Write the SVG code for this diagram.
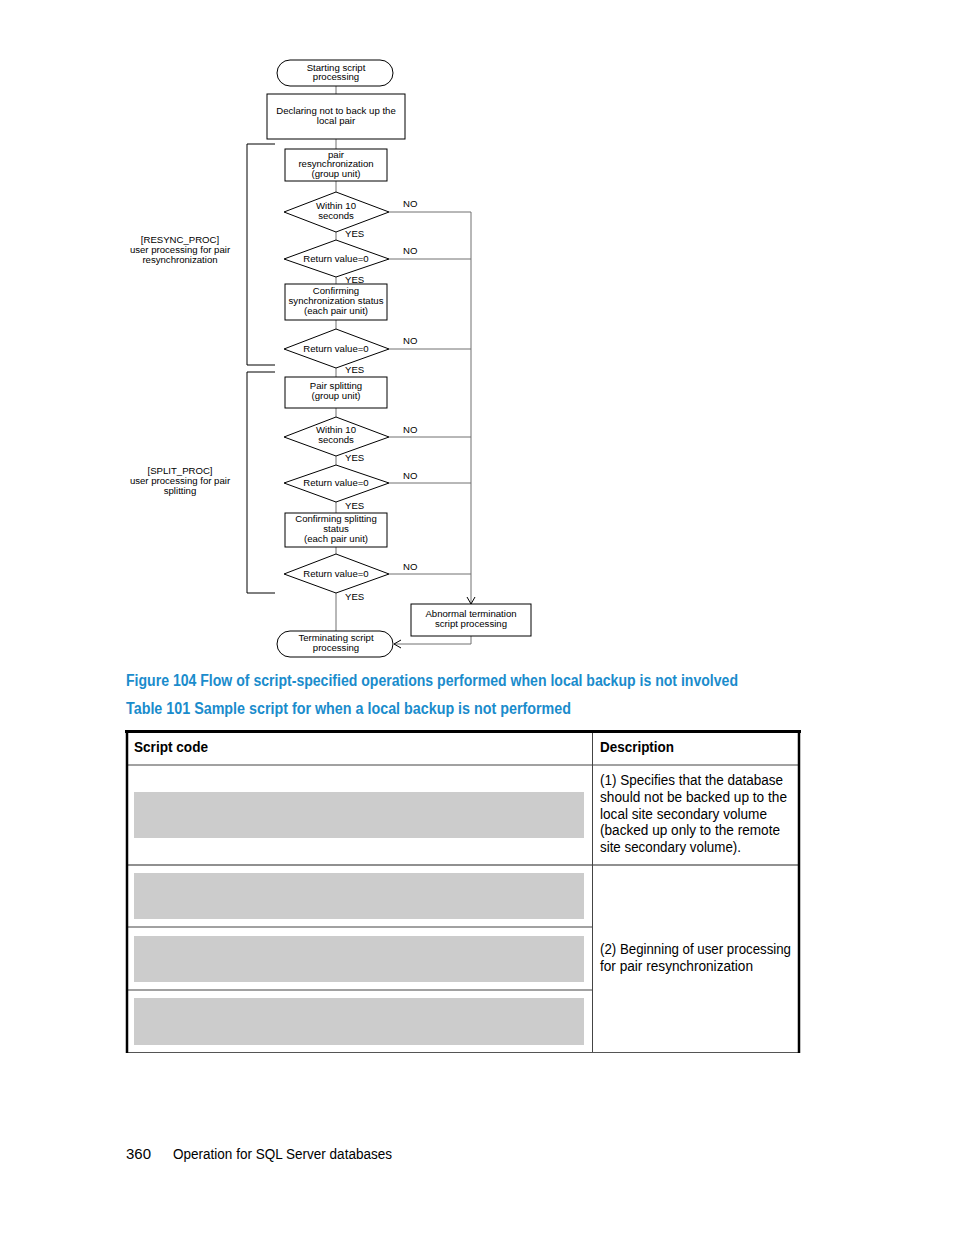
<svg xmlns="http://www.w3.org/2000/svg" width="954" height="1235" viewBox="0 0 954 1235">
<defs>
<style>
.n{fill:#fff;stroke:#000;stroke-width:1}
.t{font-family:"Liberation Sans",Arial,sans-serif;font-size:9.6px;fill:#000;text-anchor:middle}
.l{font-family:"Liberation Sans",Arial,sans-serif;font-size:9.6px;fill:#000}
.c{fill:none;stroke:#707070;stroke-width:1}
.b{fill:none;stroke:#000;stroke-width:1}
.cap{font-family:"Liberation Sans",Arial,sans-serif;font-size:16px;font-weight:bold;fill:#1a8ccc}
.h{font-family:"Liberation Sans",Arial,sans-serif;font-size:15px;font-weight:bold;fill:#000}
.d{font-family:"Liberation Sans",Arial,sans-serif;font-size:14px;fill:#000}
.g{fill:#cccccc}
</style>
<marker id="ar" markerWidth="10" markerHeight="10" refX="8" refY="5" orient="auto" markerUnits="userSpaceOnUse">
<path d="M1,1 L8,5 L1,9" fill="none" stroke="#000" stroke-width="1"/>
</marker>
</defs>
<rect width="954" height="1235" fill="#fff"/>

<g id="connectors">
<line class="c" x1="336" y1="86" x2="336" y2="94"/>
<line class="c" x1="336" y1="139" x2="336" y2="149"/>
<line class="c" x1="336" y1="181" x2="336" y2="192"/>
<line class="c" x1="336" y1="232" x2="336" y2="240"/>
<line class="c" x1="336" y1="277" x2="336" y2="284"/>
<line class="c" x1="336" y1="320" x2="336" y2="329"/>
<line class="c" x1="336" y1="368" x2="336" y2="377"/>
<line class="c" x1="336" y1="408" x2="336" y2="417"/>
<line class="c" x1="336" y1="456" x2="336" y2="465"/>
<line class="c" x1="336" y1="502" x2="336" y2="513"/>
<line class="c" x1="336" y1="547" x2="336" y2="554"/>
<line class="c" x1="336" y1="593" x2="336" y2="631"/>
<line class="c" x1="389" y1="212" x2="471" y2="212"/>
<line class="c" x1="389" y1="259" x2="471" y2="259"/>
<line class="c" x1="389" y1="349" x2="471" y2="349"/>
<line class="c" x1="389" y1="437" x2="471" y2="437"/>
<line class="c" x1="389" y1="483" x2="471" y2="483"/>
<line class="c" x1="389" y1="574" x2="471" y2="574"/>
<line class="c" x1="471" y1="212" x2="471" y2="604" marker-end="url(#ar)"/>
<polyline class="c" points="471,636 471,644 394,644" marker-end="url(#ar)"/>
<text class="l" x="403" y="207">NO</text>
<text class="l" x="403" y="254">NO</text>
<text class="l" x="403" y="344">NO</text>
<text class="l" x="403" y="433">NO</text>
<text class="l" x="403" y="479">NO</text>
<text class="l" x="403" y="570">NO</text>
<text class="l" x="345" y="237">YES</text>
<text class="l" x="345" y="283">YES</text>
<text class="l" x="345" y="373">YES</text>
<text class="l" x="345" y="461">YES</text>
<text class="l" x="345" y="509">YES</text>
<text class="l" x="345" y="600">YES</text>
</g>

<g id="brackets">
<polyline class="b" points="275,144 247,144 247,365 275,365"/>
<polyline class="b" points="275,372 247,372 247,593 275,593"/>
<text class="t" x="180" y="243">[RESYNC_PROC]</text>
<text class="t" x="180" y="253">user processing for pair</text>
<text class="t" x="180" y="263">resynchronization</text>
<text class="t" x="180" y="474">[SPLIT_PROC]</text>
<text class="t" x="180" y="484">user processing for pair</text>
<text class="t" x="180" y="494">splitting</text>
</g>

<g id="start">
<rect class="n" x="277" y="60" width="116" height="26" rx="13"/>
<text class="t" x="336" y="71">Starting script</text>
<text class="t" x="336" y="80">processing</text>
</g>
<g id="declare">
<rect class="n" x="267" y="94" width="138" height="45"/>
<text class="t" x="336" y="114">Declaring not to back up the</text>
<text class="t" x="336" y="124">local pair</text>
</g>
<g id="resync">
<rect class="n" x="285" y="149" width="102" height="32"/>
<text class="t" x="336" y="158">pair</text>
<text class="t" x="336" y="167">resynchronization</text>
<text class="t" x="336" y="177">(group unit)</text>
</g>
<g id="d1">
<polygon class="n" points="284,212 336,192 389,212 336,232"/>
<text class="t" x="336" y="209">Within 10</text>
<text class="t" x="336" y="219">seconds</text>
</g>
<g id="d2">
<polygon class="n" points="284,259 336,240 389,259 336,277"/>
<text class="t" x="336" y="262">Return value=0</text>
</g>
<g id="confsync">
<rect class="n" x="285" y="284" width="102" height="36"/>
<text class="t" x="336" y="294">Confirming</text>
<text class="t" x="336" y="304">synchronization status</text>
<text class="t" x="336" y="314">(each pair unit)</text>
</g>
<g id="d3">
<polygon class="n" points="284,349 336,329 389,349 336,368"/>
<text class="t" x="336" y="352">Return value=0</text>
</g>
<g id="split">
<rect class="n" x="285" y="377" width="102" height="31"/>
<text class="t" x="336" y="389">Pair splitting</text>
<text class="t" x="336" y="399">(group unit)</text>
</g>
<g id="d4">
<polygon class="n" points="284,437 336,417 389,437 336,456"/>
<text class="t" x="336" y="433">Within 10</text>
<text class="t" x="336" y="443">seconds</text>
</g>
<g id="d5">
<polygon class="n" points="284,483 336,465 389,483 336,502"/>
<text class="t" x="336" y="486">Return value=0</text>
</g>
<g id="confsplit">
<rect class="n" x="285" y="513" width="102" height="34"/>
<text class="t" x="336" y="522">Confirming splitting</text>
<text class="t" x="336" y="532">status</text>
<text class="t" x="336" y="542">(each pair unit)</text>
</g>
<g id="d6">
<polygon class="n" points="284,574 336,554 389,574 336,593"/>
<text class="t" x="336" y="577">Return value=0</text>
</g>
<g id="abnormal">
<rect class="n" x="411" y="604" width="120" height="32"/>
<text class="t" x="471" y="617">Abnormal termination</text>
<text class="t" x="471" y="627">script processing</text>
</g>
<g id="end">
<rect class="n" x="277" y="631" width="116" height="26" rx="13"/>
<text class="t" x="336" y="641">Terminating script</text>
<text class="t" x="336" y="651">processing</text>
</g>

<text class="cap" x="126" y="686" textLength="612" lengthAdjust="spacingAndGlyphs">Figure 104 Flow of script-specified operations performed when local backup is not involved</text>
<text class="cap" x="126" y="714" textLength="445" lengthAdjust="spacingAndGlyphs">Table 101 Sample script for when a local backup is not performed</text>

<g id="table">
<rect class="g" x="134" y="792" width="450" height="46"/>
<rect class="g" x="134" y="873" width="450" height="46"/>
<rect class="g" x="134" y="936" width="450" height="46"/>
<rect class="g" x="134" y="998" width="450" height="47"/>
<line x1="126" y1="765" x2="799" y2="765" stroke="#444" stroke-width="1"/>
<line x1="126" y1="865" x2="799" y2="865" stroke="#222" stroke-width="1.2"/>
<line x1="126" y1="927" x2="592" y2="927" stroke="#444" stroke-width="1"/>
<line x1="126" y1="990" x2="592" y2="990" stroke="#444" stroke-width="1"/>
<line x1="126" y1="1052.5" x2="799" y2="1052.5" stroke="#555" stroke-width="1"/>
<line x1="592.5" y1="731" x2="592.5" y2="1052" stroke="#444" stroke-width="1"/>
<line x1="125" y1="731.5" x2="801" y2="731.5" stroke="#000" stroke-width="3"/>
<line x1="127" y1="730" x2="127" y2="1053" stroke="#000" stroke-width="2.5"/>
<line x1="799" y1="730" x2="799" y2="1053" stroke="#000" stroke-width="2.5"/>
<text class="h" x="134" y="752" textLength="74" lengthAdjust="spacingAndGlyphs">Script code</text>
<text class="h" x="600" y="752" textLength="74" lengthAdjust="spacingAndGlyphs">Description</text>
<text class="d" x="600" y="785" textLength="183" lengthAdjust="spacingAndGlyphs">(1) Specifies that the database</text>
<text class="d" x="600" y="802" textLength="187" lengthAdjust="spacingAndGlyphs">should not be backed up to the</text>
<text class="d" x="600" y="819" textLength="167" lengthAdjust="spacingAndGlyphs">local site secondary volume</text>
<text class="d" x="600" y="835" textLength="180" lengthAdjust="spacingAndGlyphs">(backed up only to the remote</text>
<text class="d" x="600" y="852" textLength="141" lengthAdjust="spacingAndGlyphs">site secondary volume).</text>
<text class="d" x="600" y="954" textLength="191" lengthAdjust="spacingAndGlyphs">(2) Beginning of user processing</text>
<text class="d" x="600" y="971" textLength="153" lengthAdjust="spacingAndGlyphs">for pair resynchronization</text>
</g>

<text class="d" x="126" y="1159" textLength="25" lengthAdjust="spacingAndGlyphs">360</text>
<text class="d" x="173" y="1159" textLength="219" lengthAdjust="spacingAndGlyphs">Operation for SQL Server databases</text>
</svg>
